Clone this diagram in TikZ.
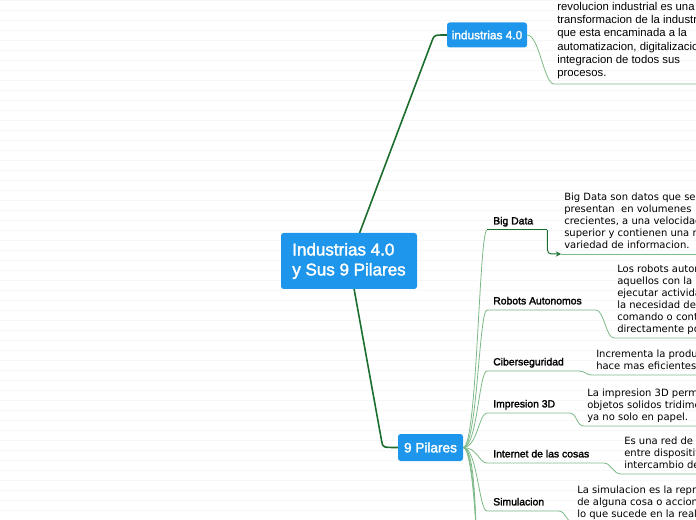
\documentclass[tikz,border=0pt]{standalone}
\usepackage{fontspec}
\usetikzlibrary{backgrounds}
\newfontfamily\cajafont{Liberation Sans}[BoldFont=*, BoldFeatures={FakeBold=2}]
\newfontfamily\textofont{Liberation Sans}
\newfontfamily\notafont{DejaVu Sans}
\definecolor{cajaazul}{RGB}{30,150,235}
\definecolor{troncoverde}{RGB}{27,110,45}
\definecolor{ramaverde}{RGB}{125,185,135}
\definecolor{rayado}{RGB}{247,247,247}

\begin{document}
\begin{tikzpicture}[x=0.75pt, y=-0.75pt,
  caja/.style={rounded corners=2pt, fill=cajaazul, text=white, inner sep=0pt},
  pilar/.style={anchor=south west, inner xsep=4.5pt, inner ysep=0pt, text height=6pt, text depth=4pt, font=\cajafont\bfseries\fontsize{7.8pt}{9pt}\selectfont},
  nota/.style={anchor=south west, inner xsep=2.25pt, inner ysep=1.1pt, align=left, font=\notafont\fontsize{7.5pt}{9pt}\selectfont,
    execute at begin node={\rule{0pt}{6pt}}, execute at end node={\rule[-3pt]{0pt}{3pt}}},
  tronco/.style={troncoverde, line width=1.2pt, line cap=round},
  rama/.style={ramaverde, line width=0.6pt},
  resalto/.style={troncoverde, line width=0.75pt, ->, >=stealth, rounded corners=3pt},
]
\path[use as bounding box] (0,0) rectangle (696,520);

% Central topic
\node[caja, minimum width=102pt, minimum height=42pt, align=left, font=\cajafont\bfseries\fontsize{12.75pt}{15pt}\selectfont] (central) at (349,261) {Industrias 4.0\\y Sus 9 Pilares};

% Main topics
\node[caja, minimum width=60pt, minimum height=18.75pt, font=\cajafont\bfseries\fontsize{8.9pt}{10pt}\selectfont] (ind) at (487,35) {industrias 4.0};
\node[caja, minimum width=48.75pt, minimum height=20.25pt, font=\cajafont\bfseries\fontsize{10.2pt}{12pt}\selectfont] (pil) at (430.5,447.5) {9 Pilares};

\node[nota, inner ysep=2.25pt, font=\textofont\fontsize{8.5pt}{10pt}\selectfont] (indn) at (554,84) {revolucion industrial es una\\transformacion de la industria\\que esta encaminada a la\\automatizacion, digitalizacion e\\integracion de todos sus\\procesos.};

% Pilares
\node[pilar] (bigdata) at (487,230) {Big Data};
\node[nota] (bigdatan) at (561,254) {Big Data son datos que se\\presentan\ \ en volumenes\\crecientes, a una velocidad\\superior y contienen una mayor\\variedad de informacion.};

\node[pilar] (robots) at (487,310) {Robots Autonomos};
\node[nota] (robotsn) at (614,338) {Los robots autonomos son\\aquellos con la capacidad de\\ejecutar actividades sin\\la necesidad de un\\comando o control\\directamente por humanos.};

\node[pilar] (ciber) at (487,371) {Ciberseguridad};
\node[nota] (cibern) at (593,375) {Incrementa la productividad y\\hace mas eficientes los procesos.};

\node[pilar] (impresion) at (487,413) {Impresion 3D};
\node[nota] (impresionn) at (584,426) {La impresion 3D permite crear\\objetos solidos tridimensionales\\ya no solo en papel.};

\node[pilar] (internet) at (487,463) {Internet de las cosas};
\node[nota] (internetn) at (621,474) {Es una red de conexion\\entre dispositivos para el\\intercambio de datos.};

\node[pilar] (simulacion) at (487,511) {Simulacion};
\node[nota] (simulacionn) at (574,523) {La simulacion es la representacion\\de alguna cosa o accion imitando\\lo que sucede en la realidad.};

\coordinate (pil7) at (476,560);
\coordinate (pil8) at (478,600);
\coordinate (pil9) at (480,640);

\begin{pgfonlayer}{background}
% notebook ruling
\foreach \y in {0,10,...,520}
  \draw[rayado, line width=0.6pt] (0,{\y+0.5}) -- (696,{\y+0.5});

\draw[tronco] (central.center) -- ([shift={(-14,4)}]ind.west) .. controls ([shift={(-12,0)}]ind.west) .. (ind.west);
\draw[tronco] (central.center) -- ([shift={(-16,-6)}]pil.west) .. controls ([shift={(-15,0)}]pil.west) .. (pil.west);

\draw[rama] (ind.east) .. controls +(12,0) and +(-10,0) .. (indn.south west) -- (indn.south east);

% branches of 9 Pilares
\foreach \p in {bigdata,robots,ciber,impresion,internet,simulacion}
  \draw[rama] (pil.east) .. controls +(14,0) and +(-8,0) .. (\p.south west);
\foreach \p in {pil7,pil8,pil9}
  \draw[rama] (pil.east) .. controls +(12,0) and +(0,-40) .. (\p);

\draw[troncoverde, line width=0.75pt] (bigdata.south west) -- ([xshift=6pt]bigdata.south east);
\draw[resalto] ([xshift=6pt]bigdata.south east) |- (bigdatan.south west);
\draw[rama] (bigdatan.south west) -- (bigdatan.south east);

\foreach \p in {robots,ciber,impresion,internet,simulacion}
  \draw[rama] (\p.south west) -- ([xshift=6pt]\p.south east) .. controls +(8,0) and +(-8,0) .. (\p n.south west) -- (\p n.south east);
\end{pgfonlayer}
\end{tikzpicture}
\end{document}
